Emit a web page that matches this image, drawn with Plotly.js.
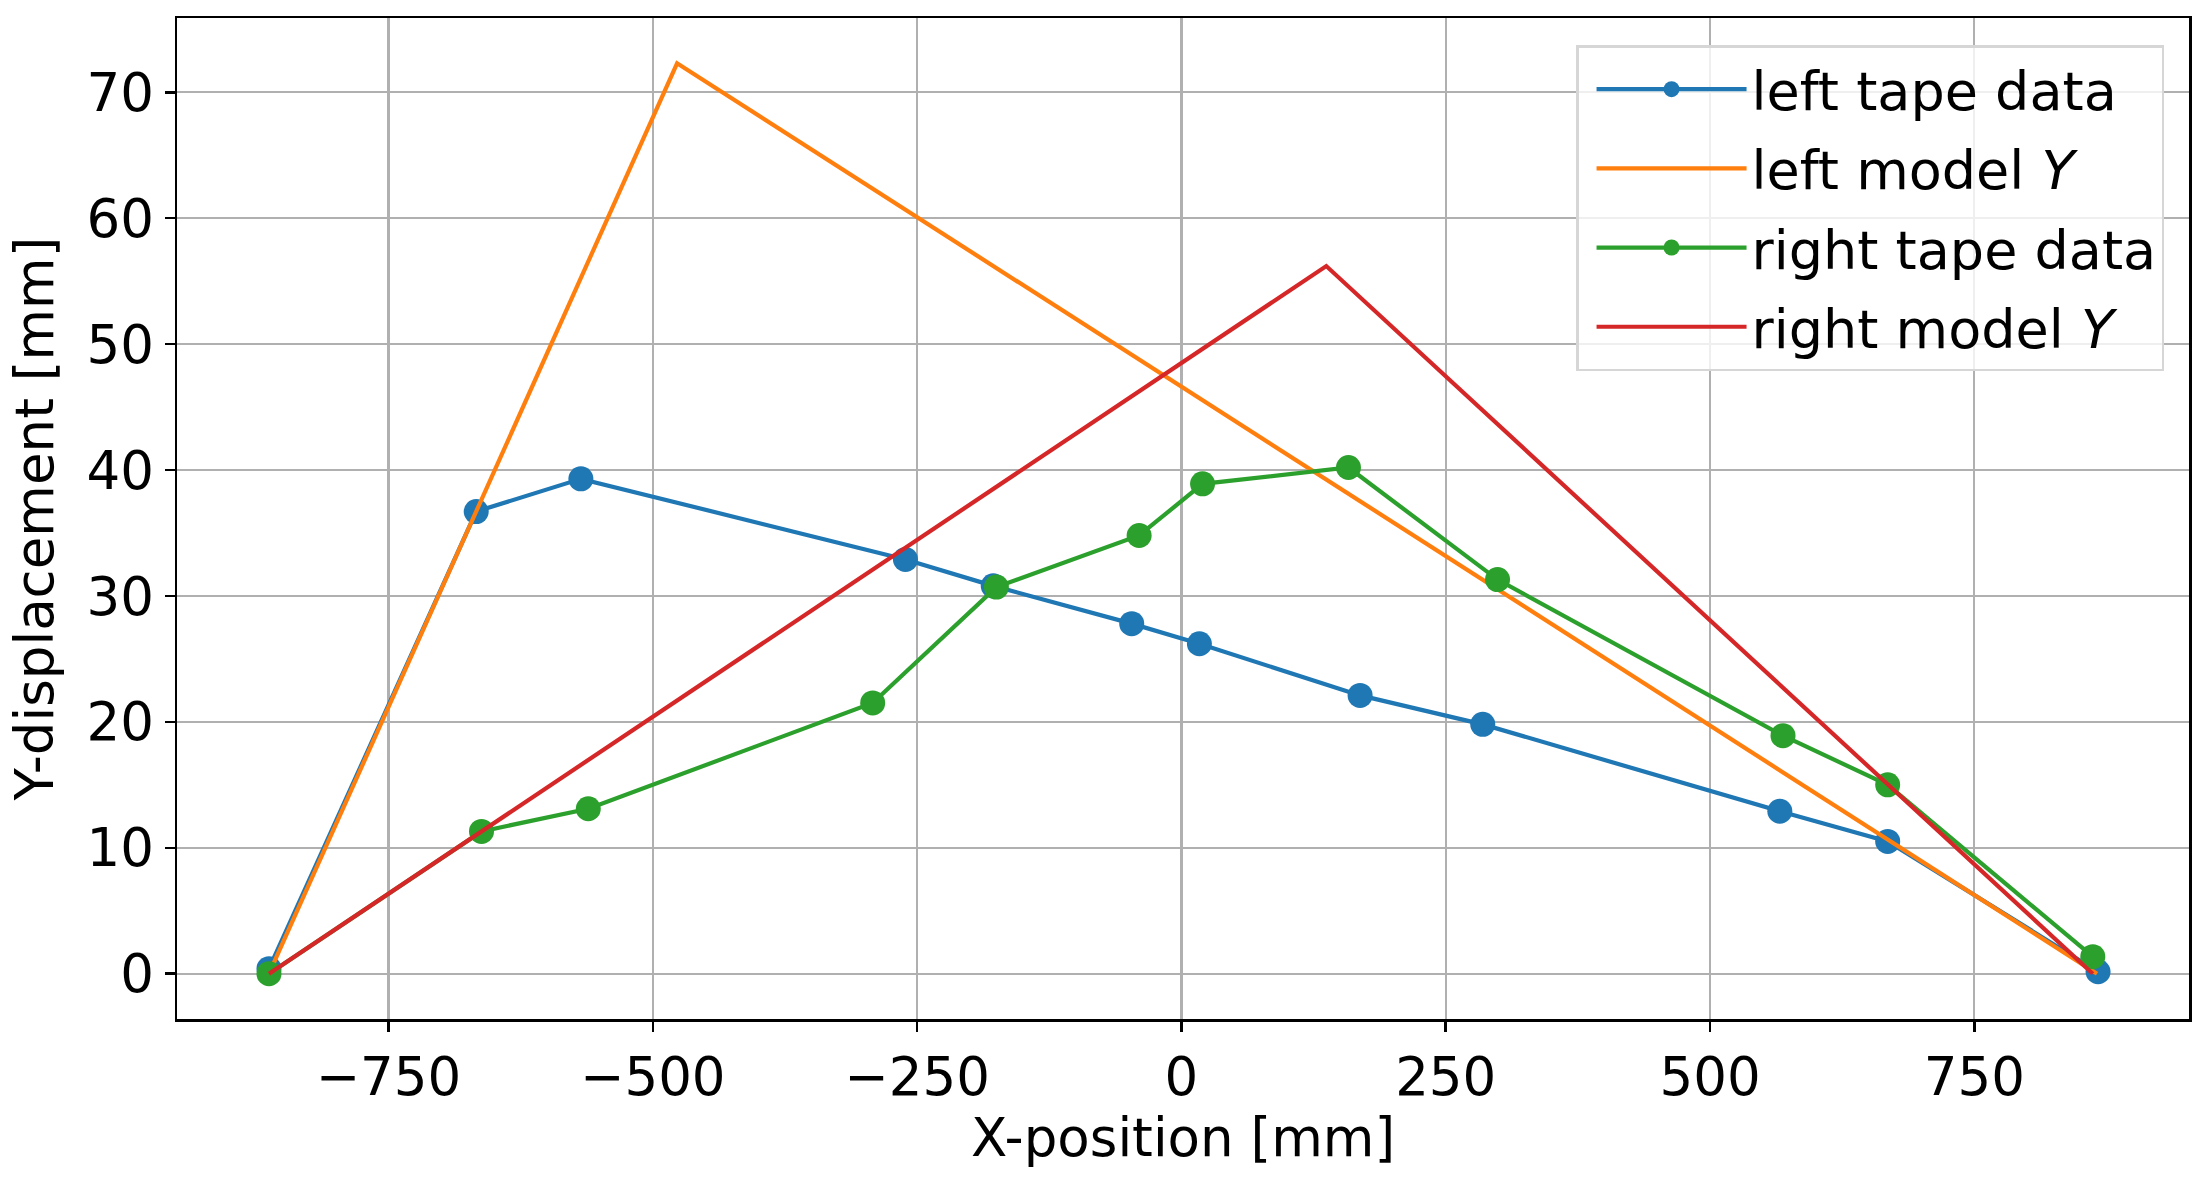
<!DOCTYPE html>
<html>
<head>
<meta charset="utf-8">
<script src="https://cdn.plot.ly/plotly-3.0.1.min.js"></script>
<style>
  html, body { margin: 0; padding: 0; background: #ffffff; }
  #chart { width: 2210px; height: 1180px; }
</style>
</head>
<body>
<div id="chart"></div>
<script>
// ---- data ----
const leftTapeX = [-863, -667, -568, -261, -178, -47, 17, 169, 285, 566, 668, 867];
const leftTapeY = [0.4, 36.7, 39.3, 32.9, 30.8, 27.8, 26.2, 22.1, 19.8, 12.9, 10.5, 0.15];

const leftModelX = [-863, -477, 866];
const leftModelY = [0, 72.3, 0];

const rightTapeX = [-863, -662, -561, -292, -175, -40, 20, 158, 299, 569, 668, 862];
const rightTapeY = [0, 11.3, 13.1, 21.5, 30.7, 34.8, 38.9, 40.2, 31.3, 18.9, 15.0, 1.35];

const rightModelX = [-863, 137, 862];
const rightModelY = [0, 56.2, 0];

const seriesNames = ['left tape data', 'left model <i>Y</i>', 'right tape data', 'right model <i>Y</i>'];
const seriesColors = ['#1f77b4', '#ff7f0e', '#2ca02c', '#d62728'];

const xTickVals = [-750, -500, -250, 0, 250, 500, 750];
const yTickVals = [0, 10, 20, 30, 40, 50, 60, 70];

// ---- chart ----
const FONT = 'DejaVu Sans, sans-serif';
const LW = 4.2;
const MS = 25;

const traces = [
  { x: leftTapeX, y: leftTapeY, name: seriesNames[0], mode: 'lines+markers',
    line: { color: seriesColors[0], width: LW }, marker: { color: seriesColors[0], size: MS }, legendgroup: 'a' },
  { x: leftModelX, y: leftModelY, name: seriesNames[1], mode: 'lines',
    line: { color: seriesColors[1], width: LW }, legendgroup: 'b' },
  { x: rightTapeX, y: rightTapeY, name: seriesNames[2], mode: 'lines+markers',
    line: { color: seriesColors[2], width: LW }, marker: { color: seriesColors[2], size: MS }, legendgroup: 'c' },
  { x: rightModelX, y: rightModelY, name: seriesNames[3], mode: 'lines',
    line: { color: seriesColors[3], width: LW }, legendgroup: 'd' }
];

const axisCommon = {
  showline: true, mirror: true, linecolor: '#000000', linewidth: 2.5,
  showgrid: true, gridcolor: '#b0b0b0', gridwidth: 2.2,
  zeroline: false,
  ticks: 'outside', ticklen: 10, tickwidth: 2.5, tickcolor: '#000000',
  tickfont: { family: FONT, size: 53, color: '#000000' },
  automargin: false
};

const layout = {
  width: 2210, height: 1180,
  margin: { l: 177, r: 21, t: 18, b: 161, pad: 0 },
  paper_bgcolor: '#ffffff', plot_bgcolor: '#ffffff',
  font: { family: FONT, size: 53, color: '#000000' },
  showlegend: true,
  legend: {
    x: 0.9876, y: 0.973, xanchor: 'right', yanchor: 'top',
    bgcolor: 'rgba(255,255,255,0.8)', bordercolor: '#d6d6d6', borderwidth: 2.5,
    font: { family: FONT, size: 54, color: '#000000' },
    tracegroupgap: 6, itemwidth: 150, indentation: 13, traceorder: 'grouped'
  },
  xaxis: Object.assign({}, axisCommon, {
    range: [-950, 953], tickvals: xTickVals,
    title: { text: 'X-position [mm]', font: { family: FONT, size: 53, color: '#000000' }, standoff: 10 }
  }),
  yaxis: Object.assign({}, axisCommon, {
    range: [-3.6, 75.9], tickvals: yTickVals,
    title: { text: 'Y-displacement [mm]', font: { family: FONT, size: 53, color: '#000000' }, standoff: 16 }
  })
};

Plotly.newPlot('chart', traces, layout, { displayModeBar: false, staticPlot: true });
</script>
</body>
</html>
